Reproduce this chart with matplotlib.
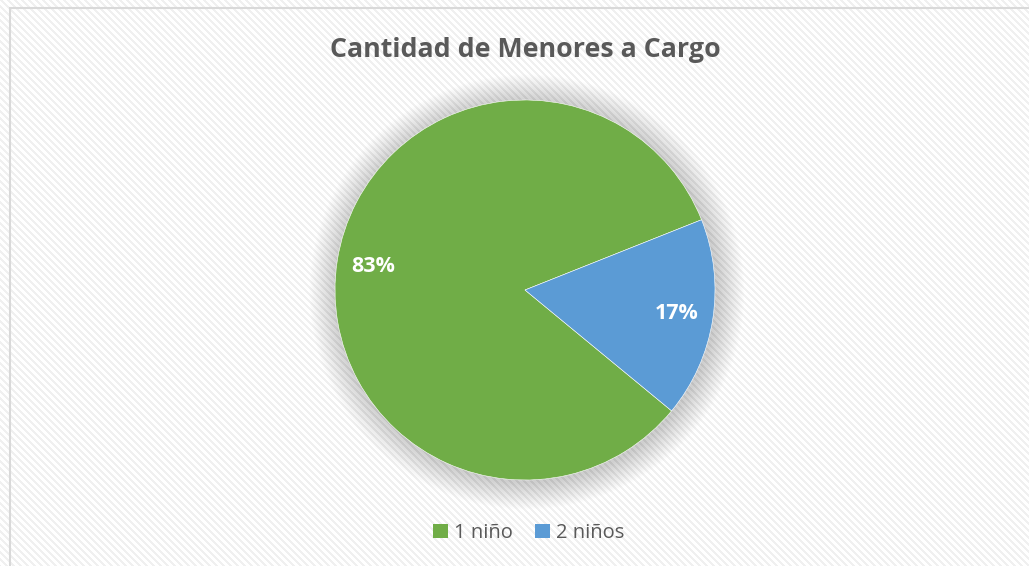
import numpy as np
import matplotlib
matplotlib.use("Agg")
import matplotlib.pyplot as plt
from matplotlib.patches import Patch, Circle, Rectangle

labels = ["1 niño", "2 niños"]
values = [83, 17]
colors = ["#70AD47", "#5B9BD5"]
title = "Cantidad de Menores a Cargo"

plt.rcParams["font.family"] = ["Open Sans", "DejaVu Sans"]

W, H = 1029, 566
fig = plt.figure(figsize=(W / 100, H / 100), dpi=100)

# striped background like the office chart style
yy, xx = np.mgrid[0:H, 0:W]
stripe = ((xx - yy) % 7) < 3
bg = np.ones((H, W, 3))
bg[stripe] = 0.945
fig.figimage(bg, 0, 0, origin="upper", zorder=-5)

# chart border
fig.patches.append(Rectangle((10 / W, -0.01), 1.05, 1 - 8 / H + 0.01,
                             transform=fig.transFigure, fill=False,
                             edgecolor="#d9d9d9", linewidth=1.5, zorder=1))

# pie axes: center (525, 290) px, radius 190 px
lim = 1.3
R = 190
cx, cy = 525, H - 290
ax = fig.add_axes([(cx - R * lim) / W, (cy - R * lim) / H,
                   2 * R * lim / W, 2 * R * lim / H], zorder=5)
ax.patch.set_visible(False)

# soft shadow
n = 24
for i in range(n):
    ax.add_patch(Circle((0.01, -0.01), 1.0 + 0.006 * (n - i), color="#000000",
                        alpha=0.008, linewidth=0, zorder=1))

wedges, texts, autotexts = ax.pie(
    values, colors=colors, startangle=-39.5, counterclock=False,
    autopct="%1.0f%%", pctdistance=0.81,
    textprops=dict(color="white", fontsize=15.5, fontweight="bold"),
    wedgeprops=dict(linewidth=0.4, edgecolor="white"))
for w in wedges:
    w.set_zorder(3)
for t in autotexts:
    t.set_zorder(4)

ax.set_xlim(-lim, lim)
ax.set_ylim(-lim, lim)
ax.set_aspect("equal")
ax.axis("off")

fig.text(525 / W, 1 - 50 / H, title, ha="center", va="center",
         fontsize=19.3, fontweight="bold", color="#595959")

handles = [Patch(facecolor=c, edgecolor="none") for c in colors]
fig.legend(handles, labels, loc="center", bbox_to_anchor=(529 / W, 1 - 533 / H),
           ncol=2, frameon=False, fontsize=14.5, labelcolor="#595959",
           handlelength=0.75, handleheight=0.75, handletextpad=0.3,
           columnspacing=1.1)

fig.savefig("out.png", dpi=100)
